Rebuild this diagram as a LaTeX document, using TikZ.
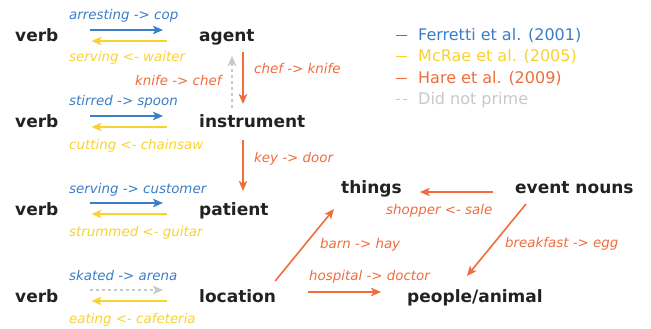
\documentclass[tikz,border=0pt]{standalone}
\usepackage{fontspec}
\setmainfont{DejaVu Sans}
\usepackage{tikz}
\usetikzlibrary{arrows.meta}
\definecolor{ferretti}{RGB}{58,125,200}
\definecolor{mcrae}{RGB}{248,210,50}
\definecolor{hare}{RGB}{240,108,60}
\definecolor{noprime}{RGB}{200,200,200}
\definecolor{ink}{RGB}{34,34,34}
\tikzset{node style role/.style={inner sep=0pt, anchor=base west, text=ink, font=\fontsize{17}{20}\selectfont\bfseries}}
\tikzset{node style lbl/.style={inner sep=0pt, anchor=base west, font=\fontsize{13.4}{16}\selectfont\itshape}}
\tikzset{node style key/.style={inner sep=0pt, anchor=base west, font=\fontsize{16}{19}\selectfont}}
\tikzset{edge style/.style={line width=1.6pt, -{Stealth[length=10pt,width=8.5pt,inset=2.5pt]}}}

\begin{document}
\begin{tikzpicture}[x=1pt,y=-1pt]
   \useasboundingbox (0,0) rectangle (651,329);

   % verbs and thematic roles
   \node[node style role] (v1) at (15,42) {verb};
   \node[node style role] (v2) at (15,128) {verb};
   \node[node style role] (v3) at (15,215) {verb};
   \node[node style role] (v4) at (15,302) {verb};
   \node[node style role] (agent) at (199,42) {agent};
   \node[node style role] (instr) at (199,128) {instrument};
   \node[node style role] (patient) at (199,215) {patient};
   \node[node style role] (loc) at (199,302) {location};
   \node[node style role] (things) at (341,193) {things};
   \node[node style role] (events) at (515,193) {event nouns};
   \node[node style role] (people) at (407,302) {people/animal};

   % verb <-> role
   \draw [edge style,color=ferretti,shorten <=31pt,shorten >=36pt] ([shift={(0,-12)}]v1.base east) -- ([shift={(0,-12)}]agent.base west);
   \draw [edge style,color=mcrae,shorten <=32pt,shorten >=33pt] ([shift={(0,-1)}]agent.base west) -- ([shift={(0,-1)}]v1.base east);
   \draw [edge style,color=ferretti,shorten <=31pt,shorten >=36pt] ([shift={(0,-12)}]v2.base east) -- ([shift={(0,-12)}]instr.base west);
   \draw [edge style,color=mcrae,shorten <=32pt,shorten >=33pt] ([shift={(0,-1)}]instr.base west) -- ([shift={(0,-1)}]v2.base east);
   \draw [edge style,color=ferretti,shorten <=31pt,shorten >=36pt] ([shift={(0,-12)}]v3.base east) -- ([shift={(0,-12)}]patient.base west);
   \draw [edge style,color=mcrae,shorten <=32pt,shorten >=33pt] ([shift={(0,-1)}]patient.base west) -- ([shift={(0,-1)}]v3.base east);
   \draw [edge style,color=noprime,dashed,shorten <=31pt,shorten >=36pt] ([shift={(0,-12)}]v4.base east) -- ([shift={(0,-12)}]loc.base west);
   \draw [edge style,color=mcrae,shorten <=32pt,shorten >=33pt] ([shift={(0,-1)}]loc.base west) -- ([shift={(0,-1)}]v4.base east);

   \node[node style lbl,text=ferretti] (l1) at (69,20) {arresting -> cop};
   \node[node style lbl,text=mcrae] (l2) at (69,62) {serving <- waiter};
   \node[node style lbl,text=ferretti] (l3) at (69,106) {stirred -> spoon};
   \node[node style lbl,text=mcrae] (l4) at (69,149) {cutting <- chainsaw};
   \node[node style lbl,text=ferretti] (l5) at (69,193) {serving -> customer};
   \node[node style lbl,text=mcrae] (l6) at (69,236) {strummed <- guitar};
   \node[node style lbl,text=ferretti] (l7) at (69,280) {skated -> arena};
   \node[node style lbl,text=mcrae] (l8) at (69,323) {eating <- cafeteria};

   % role -> role
   \draw [edge style,color=hare] ([shift={(44,10)}]agent.base west) -- ([shift={(44,-24)}]instr.base west);
   \draw [edge style,color=noprime,dashed] ([shift={(33,-20)}]instr.base west) -- ([shift={(33,14)}]agent.base west);
   \draw [edge style,color=hare] ([shift={(44,12)}]instr.base west) -- ([shift={(44,-24)}]patient.base west);
   \draw [edge style,color=hare,shorten <=22pt,shorten >=18pt] ([shift={(0,-1)}]events.base west) -- ([shift={(0,-1)}]things.base east);
   \draw [edge style,color=hare] ([shift={(-1,-21)}]loc.base east) -- ([shift={(-7,16)}]things.base west);
   \draw [edge style,color=hare,shorten <=32pt,shorten >=26pt] ([shift={(0,-10)}]loc.base east) -- ([shift={(0,-10)}]people.base west);
   \draw [edge style,color=hare] ([shift={(11,11)}]events.base west) -- ([shift={(60,-26)}]people.base west);

   \node[node style lbl,text=hare] (l9) at (254,74) {chef -> knife};
   \node[node style lbl,text=hare] (l10) at (135,85) {knife -> chef};
   \node[node style lbl,text=hare] (l11) at (254,162) {key -> door};
   \node[node style lbl,text=hare] (l12) at (386,214) {shopper <- sale};
   \node[node style lbl,text=hare] (l13) at (320,248) {barn -> hay};
   \node[node style lbl,text=hare] (l14) at (309,280) {hospital -> doctor};
   \node[node style lbl,text=hare] (l15) at (505,247) {breakfast -> egg};

   % legend
   \node[node style key,text=ferretti] (k1) at (418,41) {Ferretti et al. (2001)};
   \node[node style key,text=mcrae] (k2) at (418,62) {McRae et al. (2005)};
   \node[node style key,text=hare] (k3) at (418,84) {Hare et al. (2009)};
   \node[node style key,text=noprime] (k4) at (418,105) {Did not prime};
   \draw [ferretti,line width=1pt] ([shift={(-22,-5)}]k1.base west) -- ([shift={(-11,-5)}]k1.base west);
   \draw [mcrae,line width=1pt] ([shift={(-22,-5)}]k2.base west) -- ([shift={(-11,-5)}]k2.base west);
   \draw [hare,line width=1pt] ([shift={(-22,-5)}]k3.base west) -- ([shift={(-11,-5)}]k3.base west);
   \draw [noprime,line width=1pt,dash pattern=on 4pt off 3pt] ([shift={(-22,-5)}]k4.base west) -- ([shift={(-11,-5)}]k4.base west);
\end{tikzpicture}
\end{document}
